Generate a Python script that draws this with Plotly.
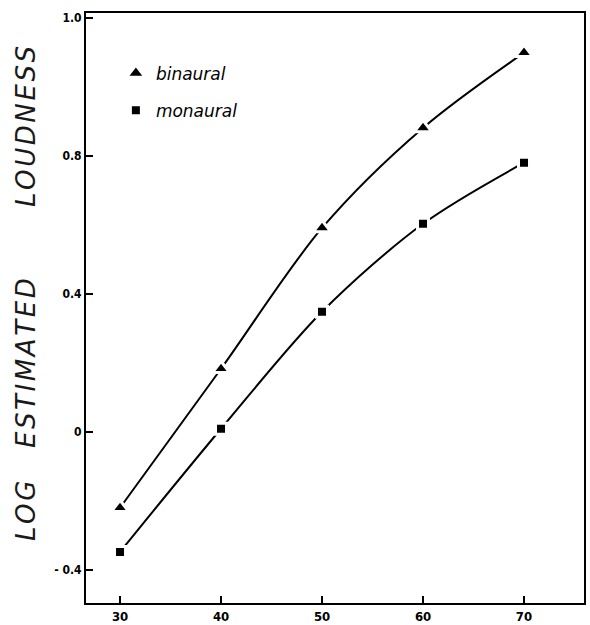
import plotly.graph_objects as go

# Stimulus level (dB) and log estimated loudness for both listening conditions
levels = [30, 40, 50, 60, 70]
binaural = [-0.22, 0.183, 0.591, 0.881, 1.099]
monaural = [-0.348, 0.009, 0.348, 0.603, 0.780]

y_tick_vals = [-0.4, 0.0, 0.4, 0.8, 1.2]
y_tick_text = ["- 0.4", "0", "0.4", "0.8", "1.0"]
x_tick_vals = [30, 40, 50, 60, 70]

tick_font_y = dict(family="DejaVu Sans Condensed, DejaVu Sans, sans-serif",
                   size=12, color="black", weight="bold")
tick_font_x = dict(family="DejaVu Sans Condensed, DejaVu Sans, sans-serif",
                   size=13, color="black", weight="bold")

fig = go.Figure()

series = [("binaural", binaural, "triangle-up", 15),
          ("monaural", monaural, "square", 11)]

for name, vals, sym, sz in series:
    # curve with small white halo around markers so the line stops short of them
    fig.add_trace(go.Scatter(
        x=levels, y=vals, mode="lines+markers",
        line=dict(color="black", width=2, shape="spline", smoothing=0.9),
        marker=dict(symbol=sym, size=sz, color="black",
                    line=dict(color="white", width=3)),
        showlegend=False, hoverinfo="skip"))

for i, (name, vals, sym, sz) in enumerate(series):
    fig.add_trace(go.Scatter(
        x=[None], y=[None], mode="markers", name=name,
        legendgroup=name,
        marker=dict(symbol=sym, size=11 if sym == "triangle-up" else 8,
                    color="black")))

axis_common = dict(showgrid=False, zeroline=False, showline=True,
                   linecolor="black", linewidth=2, mirror=True,
                   ticks="inside", tickcolor="black", tickwidth=2,
                   automargin=False)

fig.update_layout(
    width=590, height=625,
    margin=dict(l=86, r=6, t=13, b=22),
    paper_bgcolor="white", plot_bgcolor="white",
    xaxis=dict(range=[26.63, 75.94], tickvals=x_tick_vals,
               ticklen=7, tickfont=tick_font_x, ticklabelstandoff=0,
               **axis_common),
    yaxis=dict(range=[-0.496, 1.214], tickvals=y_tick_vals,
               ticktext=y_tick_text, ticklen=7, tickfont=tick_font_y,
               **axis_common),
    legend=dict(x=0.06, y=0.928, xanchor="left", yanchor="top",
                bgcolor="rgba(0,0,0,0)", borderwidth=0,
                tracegroupgap=12, traceorder="grouped",
                font=dict(family="DejaVu Sans, sans-serif", size=17,
                          color="black", style="italic")),
)

# Rotated axis title, word by word, letters slightly spaced apart
title_font = dict(family="DejaVu Sans, sans-serif", size=26, color="#1a1a1a",
                  style="italic")
for word, ycen in [("LOG", 511), ("ESTIMATED", 363), ("LOUDNESS", 127)]:
    spaced = "\u200a".join(word)
    fig.add_annotation(text=spaced, textangle=-90, font=title_font,
                       xref="paper", yref="paper",
                       x=(26 - 86) / 498, y=(603 - ycen) / 590,
                       xanchor="center", yanchor="middle",
                       showarrow=False)

fig.write_html("out.html")
